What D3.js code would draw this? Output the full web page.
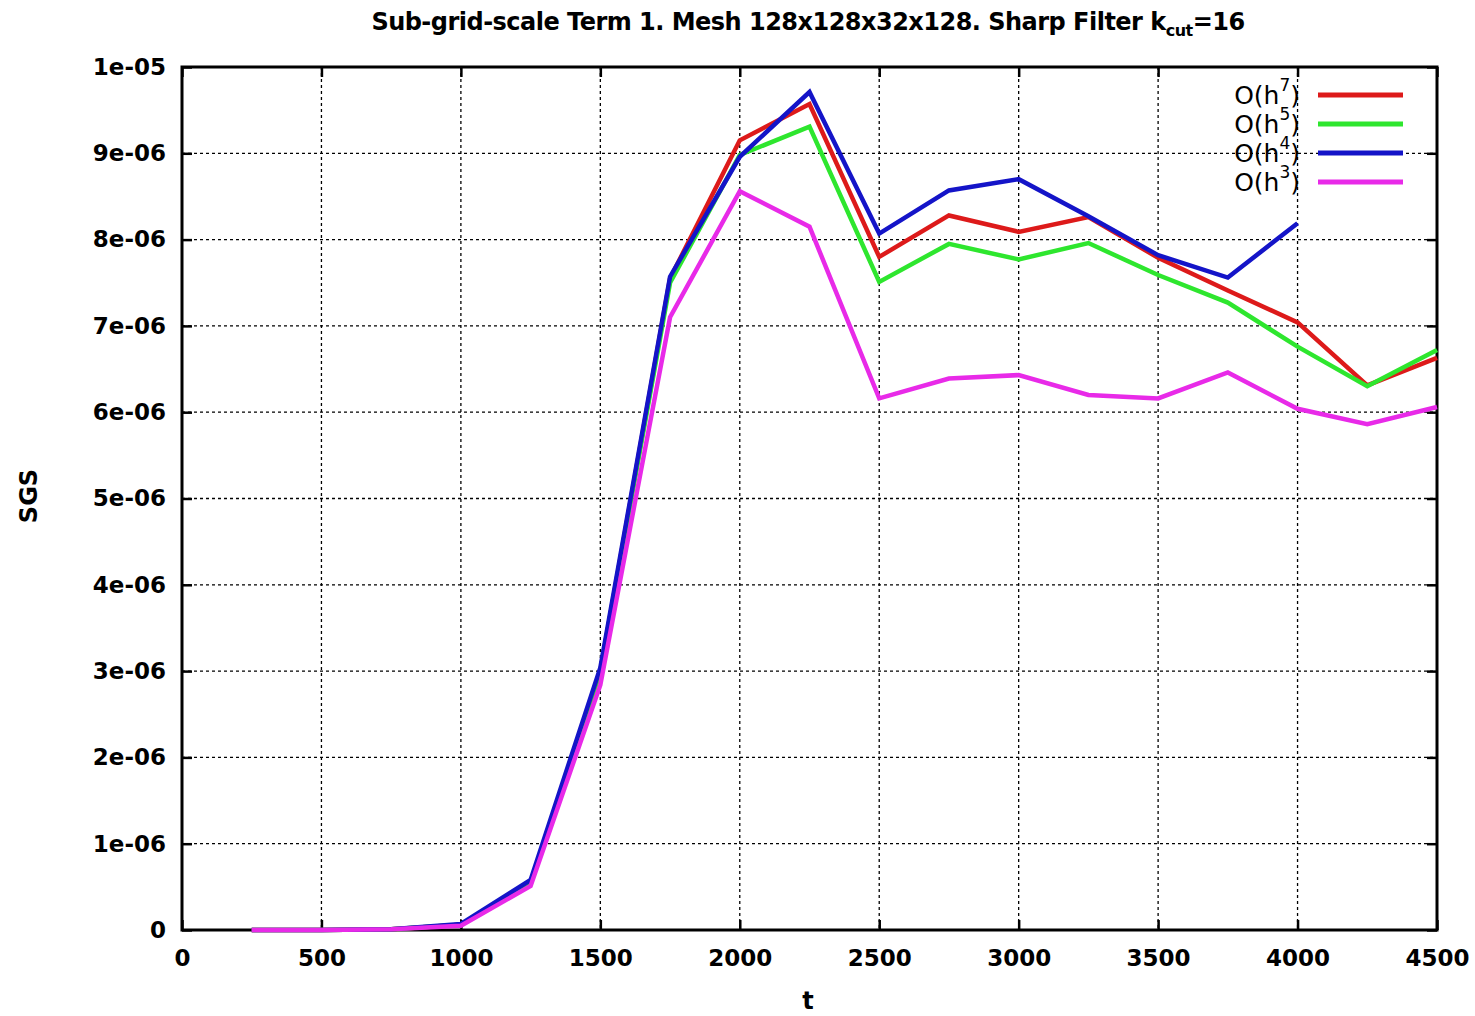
<!DOCTYPE html>
<html><head><meta charset="utf-8">
<script src="https://cdn.jsdelivr.net/npm/d3@7"></script>
<style>body{margin:0;background:#fff}</style>
</head><body>
<script>
const tValues = [250,500,750,1000,1250,1500,1750,2000,2250,2500,2750,3000,3250,3500,3750,4000,4250,4500];
const h7 = [0,0,0.01,0.06,0.55,3.0,7.55,9.15,9.57,7.80,8.28,8.09,8.26,7.79,7.41,7.04,6.31,6.63];
const h5 = [0,0,0.01,0.06,0.55,3.0,7.50,8.98,9.31,7.51,7.95,7.77,7.96,7.59,7.27,6.76,6.30,6.72];
const h4 = [0,0,0.01,0.07,0.58,3.04,7.57,8.96,9.71,8.07,8.57,8.70,8.27,7.82,7.56,8.19];
const h3 = [0,0,0.01,0.05,0.51,2.84,7.10,8.56,8.15,6.16,6.39,6.43,6.20,6.16,6.46,6.04,5.86,6.06];
const seriesNames = ["7","5","4","3"];
const seriesValues = [h7,h5,h4,h3];
const seriesColors = ["#dd1a1a","#2ee62e","#1414c8","#e82ae8"];
const xTicks = [0,500,1000,1500,2000,2500,3000,3500,4000,4500];
const yTicks = [0,1e-6,2e-6,3e-6,4e-6,5e-6,6e-6,7e-6,8e-6,9e-6,1e-5];
const yTickLabels = ["0","1e-06","2e-06","3e-06","4e-06","5e-06","6e-06","7e-06","8e-06","9e-06","1e-05"];

const W=1475,H=1016;
const L=182,R=1437,T=67,B=930;
const svg=d3.select("body").append("svg").attr("width",W).attr("height",H);
const x=d3.scaleLinear().domain([0,4500]).range([L,R]);
const y=d3.scaleLinear().domain([0,1e-5]).range([B,T]);
const font="'DejaVu Sans', Verdana, sans-serif";

// grid
const g=svg.append("g");
g.selectAll(".gx").data(xTicks.slice(1,-1)).enter().append("line")
 .attr("x1",d=>x(d)).attr("x2",d=>x(d)).attr("y1",T).attr("y2",B)
 .attr("stroke","#000").attr("stroke-width",1.3).attr("stroke-dasharray","3,3");
g.selectAll(".gy").data(yTicks.slice(1,-1)).enter().append("line")
 .attr("y1",d=>y(d)).attr("y2",d=>y(d)).attr("x1",L).attr("x2",R)
 .attr("stroke","#000").attr("stroke-width",1.3).attr("stroke-dasharray","3,3");

// axes
const xa=svg.append("g").attr("transform",`translate(0,${B})`)
 .call(d3.axisBottom(x).tickValues(xTicks).tickSize(-10).tickPadding(20).tickFormat(d3.format("d")));
const xt=svg.append("g").attr("transform",`translate(0,${T})`)
 .call(d3.axisTop(x).tickValues(xTicks).tickSize(-10).tickFormat(""));
const ya=svg.append("g").attr("transform",`translate(${L},0)`)
 .call(d3.axisLeft(y).tickValues(yTicks).tickSize(-10).tickPadding(16).tickFormat((d,i)=>yTickLabels[i]));
const yr=svg.append("g").attr("transform",`translate(${R},0)`)
 .call(d3.axisRight(y).tickValues(yTicks).tickSize(-10).tickFormat(""));
[xa,xt,ya,yr].forEach(a=>{
  a.select(".domain").remove();
  a.selectAll(".tick line").attr("stroke","#000").attr("stroke-width",2.5);
  a.selectAll("text").attr("font-family",font).attr("font-weight","bold").attr("font-size",23).attr("fill","#000");
});
xa.selectAll("text").attr("dy","0.71em");
// frame
svg.append("rect").attr("x",L).attr("y",T).attr("width",R-L).attr("height",B-T)
 .attr("fill","none").attr("stroke","#000").attr("stroke-width",3);

// lines
const line=d3.line().x((d,i)=>x(tValues[i])).y(d=>y(d*1e-6));
seriesValues.forEach((s,k)=>{
  svg.append("path").datum(s).attr("d",line).attr("fill","none")
   .attr("stroke",seriesColors[k]).attr("stroke-width",4.5).attr("stroke-linejoin","miter");
});

// legend
const lg=svg.append("g");
seriesNames.forEach((n,k)=>{
  const yy=95+k*29;
  const tx=lg.append("text").attr("x",1300).attr("y",yy+9).attr("text-anchor","end")
   .attr("font-family",font).attr("font-size",25).attr("fill","#000");
  tx.append("tspan").text("O(h");
  tx.append("tspan").attr("font-size",17).attr("dy",-13).text(n);
  tx.append("tspan").attr("dy",13).text(")");
  lg.append("line").attr("x1",1318).attr("x2",1403).attr("y1",yy).attr("y2",yy)
   .attr("stroke",seriesColors[k]).attr("stroke-width",5);
});

// title
const tt=svg.append("text").attr("x",808).attr("y",30).attr("text-anchor","middle")
 .attr("font-family",font).attr("font-weight","bold").attr("font-size",24).attr("fill","#000");
tt.append("tspan").text("Sub-grid-scale Term 1. Mesh 128x128x32x128. Sharp Filter k");
tt.append("tspan").attr("font-size",16).attr("dy",6).text("cut");
tt.append("tspan").attr("dy",-6).text("=16");
const tw=tt.node().getBBox().width;
tt.attr("letter-spacing",((872-tw)/66).toFixed(2)+"px");

svg.append("text").attr("x",808).attr("y",1009).attr("text-anchor","middle")
 .attr("font-family",font).attr("font-weight","bold").attr("font-size",24).text("t");
svg.append("text").attr("transform","translate(37,496) rotate(-90)").attr("text-anchor","middle")
 .attr("font-family",font).attr("font-weight","bold").attr("font-size",24).text("SGS");
</script>
</body></html>
